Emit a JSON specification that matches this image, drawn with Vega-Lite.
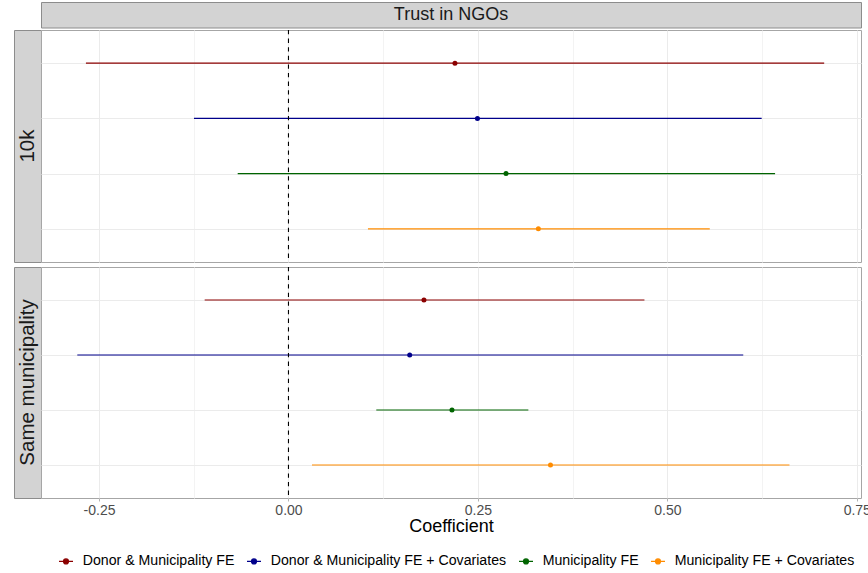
{
  "$schema": "https://vega.github.io/schema/vega-lite/v6.json",
  "padding": {"left": 13, "top": 1, "right": 0, "bottom": 0},
  "autosize": {"type": "pad"},
  "background": "white",
  "config": {
    "font": "Liberation Sans",
    "view": {"stroke": "#A6A6A6"},
    "concat": {"spacing": 0}
  },
  "datasets": {
    "est": [
      {"panel": "10k", "model": "Donor & Municipality FE", "est": 0.2197, "lo": -0.2673, "hi": 0.707},
      {"panel": "10k", "model": "Donor & Municipality FE + Covariates", "est": 0.2494, "lo": -0.1247, "hi": 0.6245},
      {"panel": "10k", "model": "Municipality FE", "est": 0.2871, "lo": -0.067, "hi": 0.6422},
      {"panel": "10k", "model": "Municipality FE + Covariates", "est": 0.3298, "lo": 0.1049, "hi": 0.556},
      {"panel": "Same municipality", "model": "Donor & Municipality FE", "est": 0.1788, "lo": -0.1106, "hi": 0.4698},
      {"panel": "Same municipality", "model": "Donor & Municipality FE + Covariates", "est": 0.16, "lo": -0.2787, "hi": 0.6002},
      {"panel": "Same municipality", "model": "Municipality FE", "est": 0.2158, "lo": 0.1159, "hi": 0.3166},
      {"panel": "Same municipality", "model": "Municipality FE + Covariates", "est": 0.3458, "lo": 0.031, "hi": 0.6612}
    ],
    "ref": [{"ref": 0}]
  },
  "resolve": {"scale": {"color": "shared"}, "legend": {"color": "shared"}},
  "spacing": 0,
  "vconcat": [
    {
      "spacing": 0,
      "bounds": "flush",
      "hconcat": [
        {
          "width": 27, "height": 25.5,
          "data": {"values": [{"label": ""}]},
          "mark": {"type": "text"},
          "encoding": {"text": {"field": "label"}},
          "view": {"stroke": null, "fill": null}
        },
        {
          "width": 820, "height": 25.5,
          "data": {"values": [{"label": "Trust in NGOs"}]},
          "mark": {"type": "text", "fontSize": 18, "color": "#1A1A1A"},
          "encoding": {"text": {"field": "label"}},
          "view": {"fill": "#D3D3D3", "stroke": "#8C8C8C"}
        }
      ]
    },
    {
      "spacing": 1,
      "resolve": {"scale": {"color": "shared"}, "legend": {"color": "shared"}},
      "vconcat": [
        {
          "spacing": 0,
          "bounds": "flush",
          "resolve": {"scale": {"color": "shared"}, "legend": {"color": "shared"}},
          "hconcat": [
            {
              "width": 27, "height": 232,
              "data": {"values": [{"label": "10k"}]},
              "mark": {"type": "text", "fontSize": 20.5, "angle": 270, "color": "#1A1A1A"},
              "encoding": {"text": {"field": "label"}},
              "view": {"fill": "#D3D3D3", "stroke": "#8C8C8C"}
            },
            {
              "width": 820, "height": 232,
              "data": {"name": "est"},
              "transform": [{"filter": "datum.panel === '10k'"}],
              "view": {"stroke": "#A6A6A6", "fill": "white"},
              "layer": [
                {
                  "mark": {"type": "rule", "strokeWidth": 1.1},
                  "encoding": {
                    "x": {"field": "lo", "type": "quantitative",
                      "scale": {"domain": [-0.3266, 0.7556], "nice": false, "zero": false},
                      "axis": {"grid": true, "labels": false, "ticks": false, "domain": false, "title": null,
                        "values": [-0.25, -0.125, 0, 0.125, 0.25, 0.375, 0.5, 0.625, 0.75],
                        "gridColor": {"condition": {"test": "abs(datum.value*4 - round(datum.value*4)) > 0.01", "value": "#F3F3F3"}, "value": "#EBEBEB"}}},
                    "x2": {"field": "hi"},
                    "y": {"field": "model", "type": "nominal",
                      "scale": {"type": "point", "padding": 0.6},
                      "sort": ["Donor & Municipality FE", "Donor & Municipality FE + Covariates", "Municipality FE", "Municipality FE + Covariates"],
                      "axis": {"grid": true, "labels": false, "ticks": false, "domain": false, "title": null, "gridColor": "#EBEBEB"}},
                    "color": {"field": "model", "type": "nominal",
                      "scale": {"domain": ["Donor & Municipality FE", "Donor & Municipality FE + Covariates", "Municipality FE", "Municipality FE + Covariates"],
                        "range": ["#8B0000", "#00008B", "#006400", "#FF8C00"]},
                      "legend": {"orient": "none", "legendX": 44, "legendY": 551, "direction": "horizontal", "columns": 4,
                        "title": null, "padding": 0,
                        "symbolType": "M-1,0H1M-0.36,0A0.36,0.36,0,1,1,0.36,0A0.36,0.36,0,1,1,-0.36,0Z",
                        "symbolSize": 196, "symbolStrokeWidth": 1.1,
                        "labelFontSize": 14.15, "labelColor": "#000000", "labelOffset": 8.7, "columnPadding": 9, "labelLimit": 400,
                        "encode": {"symbols": {"update": {"stroke": {"scale": "color", "field": "value"}, "fill": {"scale": "color", "field": "value"}, "opacity": {"value": 1}}}}}}
                  }
                },
                {
                  "data": {"name": "ref"},
                  "mark": {"type": "rule", "color": "black", "strokeWidth": 1.1, "strokeDash": [4.3, 4.3]},
                  "encoding": {"x": {"field": "ref", "type": "quantitative"}}
                },
                {
                  "mark": {"type": "point", "filled": true, "size": 25, "opacity": 1},
                  "encoding": {
                    "x": {"field": "est", "type": "quantitative"},
                    "y": {"field": "model", "type": "nominal",
                      "sort": ["Donor & Municipality FE", "Donor & Municipality FE + Covariates", "Municipality FE", "Municipality FE + Covariates"]},
                    "color": {"field": "model", "type": "nominal",
                      "legend": {"orient": "none", "legendX": 44, "legendY": 551, "direction": "horizontal", "columns": 4,
                        "title": null, "padding": 0,
                        "symbolType": "M-1,0H1M-0.36,0A0.36,0.36,0,1,1,0.36,0A0.36,0.36,0,1,1,-0.36,0Z",
                        "symbolSize": 196, "symbolStrokeWidth": 1.1,
                        "labelFontSize": 14.15, "labelColor": "#000000", "labelOffset": 8.7, "columnPadding": 9, "labelLimit": 400,
                        "encode": {"symbols": {"update": {"stroke": {"scale": "color", "field": "value"}, "fill": {"scale": "color", "field": "value"}, "opacity": {"value": 1}}}}}}
                  }
                }
              ]
            }
          ]
        },
        {
          "spacing": 0,
          "bounds": "flush",
          "resolve": {"scale": {"color": "shared"}, "legend": {"color": "shared"}},
          "hconcat": [
            {
              "width": 27, "height": 231,
              "data": {"values": [{"label": "Same municipality"}]},
              "mark": {"type": "text", "fontSize": 20.5, "angle": 270, "color": "#1A1A1A"},
              "encoding": {"text": {"field": "label"}},
              "view": {"fill": "#D3D3D3", "stroke": "#8C8C8C"}
            },
            {
              "width": 820, "height": 231,
              "data": {"name": "est"},
              "transform": [{"filter": "datum.panel === 'Same municipality'"}],
              "view": {"stroke": "#A6A6A6", "fill": "white"},
              "layer": [
                {
                  "mark": {"type": "rule", "strokeWidth": 1.1},
                  "encoding": {
                    "x": {"field": "lo", "type": "quantitative",
                      "scale": {"domain": [-0.3266, 0.7556], "nice": false, "zero": false},
                      "axis": {"grid": true, "domain": false, "title": "Coefficient",
                        "values": [-0.25, -0.125, 0, 0.125, 0.25, 0.375, 0.5, 0.625, 0.75],
                        "labelExpr": "abs(datum.value*4 - round(datum.value*4)) > 0.01 ? '' : replace(format(datum.value, '.2f'), '\u2212', '-')",
                        "gridColor": {"condition": {"test": "abs(datum.value*4 - round(datum.value*4)) > 0.01", "value": "#F3F3F3"}, "value": "#EBEBEB"},
                        "tickOpacity": {"condition": {"test": "abs(datum.value*4 - round(datum.value*4)) > 0.01", "value": 0}, "value": 1},
                        "tickColor": "#B3B3B3", "tickSize": 3, "tickWidth": 1,
                        "labelFontSize": 14, "labelColor": "#4D4D4D", "labelPadding": 2, "labelFlush": false,
                        "titleFontSize": 18, "titleFontWeight": "normal", "titleColor": "#000000", "titlePadding": 0}},
                    "x2": {"field": "hi"},
                    "y": {"field": "model", "type": "nominal",
                      "scale": {"type": "point", "padding": 0.6},
                      "sort": ["Donor & Municipality FE", "Donor & Municipality FE + Covariates", "Municipality FE", "Municipality FE + Covariates"],
                      "axis": {"grid": true, "labels": false, "ticks": false, "domain": false, "title": null, "gridColor": "#EBEBEB"}},
                    "color": {"field": "model", "type": "nominal",
                      "legend": {"orient": "none", "legendX": 44, "legendY": 551, "direction": "horizontal", "columns": 4,
                        "title": null, "padding": 0,
                        "symbolType": "M-1,0H1M-0.36,0A0.36,0.36,0,1,1,0.36,0A0.36,0.36,0,1,1,-0.36,0Z",
                        "symbolSize": 196, "symbolStrokeWidth": 1.1,
                        "labelFontSize": 14.15, "labelColor": "#000000", "labelOffset": 8.7, "columnPadding": 9, "labelLimit": 400,
                        "encode": {"symbols": {"update": {"stroke": {"scale": "color", "field": "value"}, "fill": {"scale": "color", "field": "value"}, "opacity": {"value": 1}}}}}}
                  }
                },
                {
                  "data": {"name": "ref"},
                  "mark": {"type": "rule", "color": "black", "strokeWidth": 1.1, "strokeDash": [4.3, 4.3]},
                  "encoding": {"x": {"field": "ref", "type": "quantitative"}}
                },
                {
                  "mark": {"type": "point", "filled": true, "size": 25, "opacity": 1},
                  "encoding": {
                    "x": {"field": "est", "type": "quantitative"},
                    "y": {"field": "model", "type": "nominal",
                      "sort": ["Donor & Municipality FE", "Donor & Municipality FE + Covariates", "Municipality FE", "Municipality FE + Covariates"]},
                    "color": {"field": "model", "type": "nominal",
                      "legend": {"orient": "none", "legendX": 44, "legendY": 551, "direction": "horizontal", "columns": 4,
                        "title": null, "padding": 0,
                        "symbolType": "M-1,0H1M-0.36,0A0.36,0.36,0,1,1,0.36,0A0.36,0.36,0,1,1,-0.36,0Z",
                        "symbolSize": 196, "symbolStrokeWidth": 1.1,
                        "labelFontSize": 14.15, "labelColor": "#000000", "labelOffset": 8.7, "columnPadding": 9, "labelLimit": 400,
                        "encode": {"symbols": {"update": {"stroke": {"scale": "color", "field": "value"}, "fill": {"scale": "color", "field": "value"}, "opacity": {"value": 1}}}}}}
                  }
                }
              ]
            }
          ]
        }
      ]
    }
  ]
}
